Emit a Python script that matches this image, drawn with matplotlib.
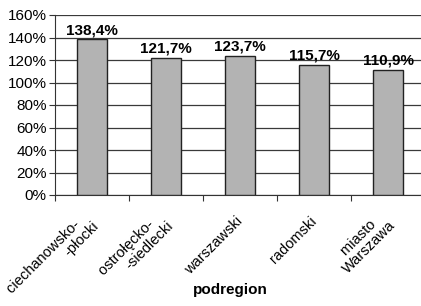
import matplotlib
matplotlib.use("Agg")
import matplotlib.pyplot as plt
from matplotlib.ticker import FuncFormatter, MultipleLocator

categories = ["ciechanowsko-   \n-płocki", "ostrołęcko-   \n-siedlecki", "warszawski", "radomski", "miasto   \nWarszawa"]
values = [138.4, 121.7, 123.7, 115.7, 110.9]
labels = ["138,4%", "121,7%", "123,7%", "115,7%", "110,9%"]

plt.rcParams['font.family'] = ['Liberation Sans', 'DejaVu Sans']
fig = plt.figure(figsize=(4.21, 3.06), dpi=100)
ax = fig.add_axes([55/421, 1-195/306, 370/421, 180/306])

x = list(range(len(values)))
ax.bar(x, values, width=0.41, color='#b3b3b3', edgecolor='#222222', linewidth=1.0, zorder=3)
for xi, v, l in zip(x, values, labels):
    ax.text(xi, v + 2, l, ha='center', va='bottom', fontsize=11, fontweight='bold', zorder=4)

ax.set_xlim(-0.5, len(values) - 0.5)
ax.set_ylim(0, 160)
ax.yaxis.set_major_locator(MultipleLocator(20))
ax.yaxis.set_major_formatter(FuncFormatter(lambda v, p: f"{int(v)}%"))
ax.grid(axis='y', color='#3a3a3a', linewidth=0.9, zorder=0)
ax.set_axisbelow(True)
for s in ['top', 'right']:
    ax.spines[s].set_visible(False)
ax.spines['left'].set_color('#333333')
ax.spines['bottom'].set_color('#333333')

ax.set_xticks([i - 0.5 for i in range(len(values) + 1)])
ax.set_xticklabels([])
ax.set_xticks(x, minor=True)
ax.set_xticklabels(categories, minor=True, rotation=45, ha='right', va='center',
                   rotation_mode='anchor', multialignment='right', fontsize=10.5, linespacing=1.0)
ax.tick_params(axis='x', which='minor', length=0, pad=17)
ax.tick_params(axis='x', which='major', length=4, color='#333333')
ax.tick_params(axis='y', length=4, color='#333333', labelsize=11, pad=2)

fig.text(230/421, 1-290/306, "podregion", ha='center', va='center', fontsize=11, fontweight='bold')

fig.savefig("out.png", dpi=100)
